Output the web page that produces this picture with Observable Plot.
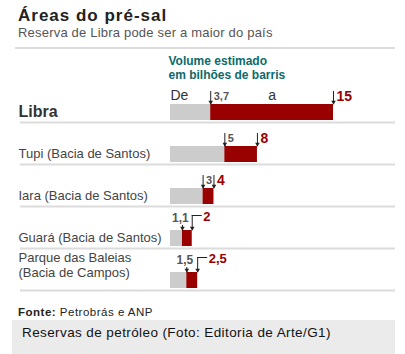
<!DOCTYPE html>
<html>
<head>
<meta charset="utf-8">
<script src="https://cdn.jsdelivr.net/npm/d3@7"></script>
<script src="https://cdn.jsdelivr.net/npm/@observablehq/plot@0.6"></script>
<style>
  body { margin:0; width:405px; height:354px; background:#fff; position:relative; overflow:hidden;
         font-family:"Liberation Sans", Arial, sans-serif; }
  .abs { position:absolute; white-space:nowrap; }
  #title { left:18px; top:5px; font-size:17px; line-height:22px; color:#222; font-weight:bold; letter-spacing:1px; }
  #subtitle { left:18px; top:25px; font-size:13px; line-height:16px; color:#555; letter-spacing:0.2px; }
  #rule { left:15px; top:47px; width:380px; height:2px; background:#dcdcdc; }
  #chart { left:0; top:44px; }
  #source { left:18px; top:305.5px; font-size:11.5px; line-height:13px; color:#222; letter-spacing:0.5px; }
  #caption { left:12px; top:320px; width:383px; height:34px; background:#ebebeb; }
  #caption span { position:absolute; left:10px; top:4.5px; font-size:13.5px; line-height:16px; color:#111; letter-spacing:0.4px; white-space:nowrap; }
</style>
</head>
<body>
<div class="abs" id="title"></div>
<div class="abs" id="subtitle"></div>
<div class="abs" id="rule"></div>
<div class="abs" id="chart"></div>
<div class="abs" id="source"></div>
<div class="abs" id="caption"><span></span></div>
<script>
// ---- data ----
const titleText = "Áreas do pré-sal";
const subtitleText = "Reserva de Libra pode ser a maior do país";
const headerText = "Volume estimado\nem bilhões de barris";
const fromWord = "De";
const toWord = "a";
const sourceLabel = "Fonte:";
const sourceText = " Petrobrás e ANP";
const captionText = "Reservas de petróleo (Foto: Editoria de Arte/G1)";

const fields = ["Libra", "Tupi (Bacia de Santos)", "Iara (Bacia de Santos)", "Guará (Bacia de Santos)", "Parque das Baleias\n(Bacia de Campos)"];
const lowValues = [3.7, 5, 3, 1.1, 1.5];
const highValues = [15, 8, 4, 2, 2.5];
const lowLabels = ["3,7", "5", "3", "1,1", "1,5"];
const highLabels = ["15", "8", "4", "2", "2,5"];

// ---- page text ----
document.getElementById("title").textContent = titleText;
document.getElementById("subtitle").textContent = subtitleText;
const src = document.getElementById("source");
const b = document.createElement("b"); b.textContent = sourceLabel;
src.appendChild(b); src.appendChild(document.createTextNode(sourceText));
document.querySelector("#caption span").textContent = captionText;

// ---- table ----
const data = fields.map((name, i) => ({
  name, low: lowValues[i], high: highValues[i],
  lowLabel: lowLabels[i], highLabel: highLabels[i],
  elbow: highValues[i] < 3
}));
const straight = data.filter(d => !d.elbow);
const elbow = data.filter(d => d.elbow);
const lead = data.slice(0, 1);
const singleLine = data.slice(1).filter(d => !d.name.includes("\n"));
const multiLine = data.filter(d => d.name.includes("\n"));

const red = "#990000", gray = "#cccccc", ink = "#222";

const chart = Plot.plot({
  width: 405, height: 250,
  marginLeft: 20, marginRight: 10, marginTop: 0, marginBottom: 0,
  x: {domain: [0, 15], range: [170, 333], axis: null},
  y: {domain: fields, range: [36, 246], padding: 0, axis: null},
  style: {fontFamily: "'Liberation Sans', Arial, sans-serif", background: "none", overflow: "visible"},
  marks: [
    Plot.ruleY(data, {y: "name", dy: 21, stroke: "#dcdcdc", strokeWidth: 2}),
    Plot.barX(data, {x1: () => 0, x2: "low", y: "name", fill: gray, insetTop: 24, insetBottom: 2}),
    Plot.barX(data, {x1: "low", x2: "high", y: "name", fill: red, insetTop: 24, insetBottom: 2}),
    // ticks
    Plot.tickX(straight, {x: "low", y: "name", stroke: ink, insetTop: 11, insetBottom: 18}),
    Plot.tickX(straight, {x: "high", y: "name", stroke: ink, insetTop: 11, insetBottom: 18}),
    Plot.tickX(elbow, {x: "low", y: "name", stroke: ink, insetTop: 19, insetBottom: 18}),
    Plot.tickX(elbow, {x: "high", y: "name", stroke: ink, insetTop: 9, insetBottom: 18}),
    Plot.barX(elbow, {x1: "high", x2: "high", y: "name", fill: ink, insetLeft: 0, insetRight: -10, insetTop: 9, insetBottom: 32}),
    // arrowheads
    Plot.dot(data, {x: "low", y: "name", symbol: "triangle", rotate: 180, r: 1.7, fill: ink, dy: 0.5}),
    Plot.dot(data, {x: "high", y: "name", symbol: "triangle", rotate: 180, r: 1.7, fill: ink, dy: 0.5}),
    // value labels
    Plot.text(straight, {x: "low", y: "name", text: "lowLabel", textAnchor: "start", lineAnchor: "bottom", dx: 3, dy: -1.5, fontSize: 11, fontWeight: "bold", fill: "#555"}),
    Plot.text(straight, {x: "high", y: "name", text: "highLabel", textAnchor: "start", lineAnchor: "bottom", dx: 3, dy: -1, fontSize: 14, fontWeight: "bold", fill: red}),
    Plot.text(elbow, {x: "low", y: "name", text: "lowLabel", textAnchor: "middle", lineAnchor: "bottom", dx: -2, dy: -6, fontSize: 12, fontWeight: "bold", fill: "#555"}),
    Plot.text(elbow, {x: "high", y: "name", text: "highLabel", textAnchor: "start", lineAnchor: "bottom", dx: 11, dy: -7, fontSize: 13, fontWeight: "bold", fill: red}),
    // "De ... a"
    Plot.text(lead, {x: () => 0, y: "name", text: () => fromWord, textAnchor: "start", lineAnchor: "bottom", dy: -2, fontSize: 14, fill: "#333"}),
    Plot.text(lead, {x: d => (d.low + d.high) / 2, y: "name", text: () => toWord, textAnchor: "middle", lineAnchor: "bottom", dy: -2, fontSize: 14, fill: "#333"}),
    // header
    Plot.text([headerText], {x: () => 0, frameAnchor: "top", text: d => d, textAnchor: "start", lineAnchor: "bottom", dx: -2, dy: 34, lineHeight: 1.1, fontSize: 12, fontWeight: "bold", fill: "#0b6b6b"}),
    // row names
    Plot.text(lead, {frameAnchor: "left", y: "name", text: "name", textAnchor: "start", lineAnchor: "bottom", dx: -2, dy: 15, fontSize: 16, fontWeight: "bold", fill: "#333"}),
    Plot.text(singleLine, {frameAnchor: "left", y: "name", text: "name", textAnchor: "start", lineAnchor: "bottom", dx: -2, dy: 14.5, fontSize: 13, fill: "#444"}),
    Plot.text(multiLine, {frameAnchor: "left", y: "name", text: "name", textAnchor: "start", lineAnchor: "bottom", dx: -2, dy: 7, lineHeight: 1.1, fontSize: 13, fill: "#444"})
  ]
});
document.getElementById("chart").appendChild(chart);
</script>
</body>
</html>
